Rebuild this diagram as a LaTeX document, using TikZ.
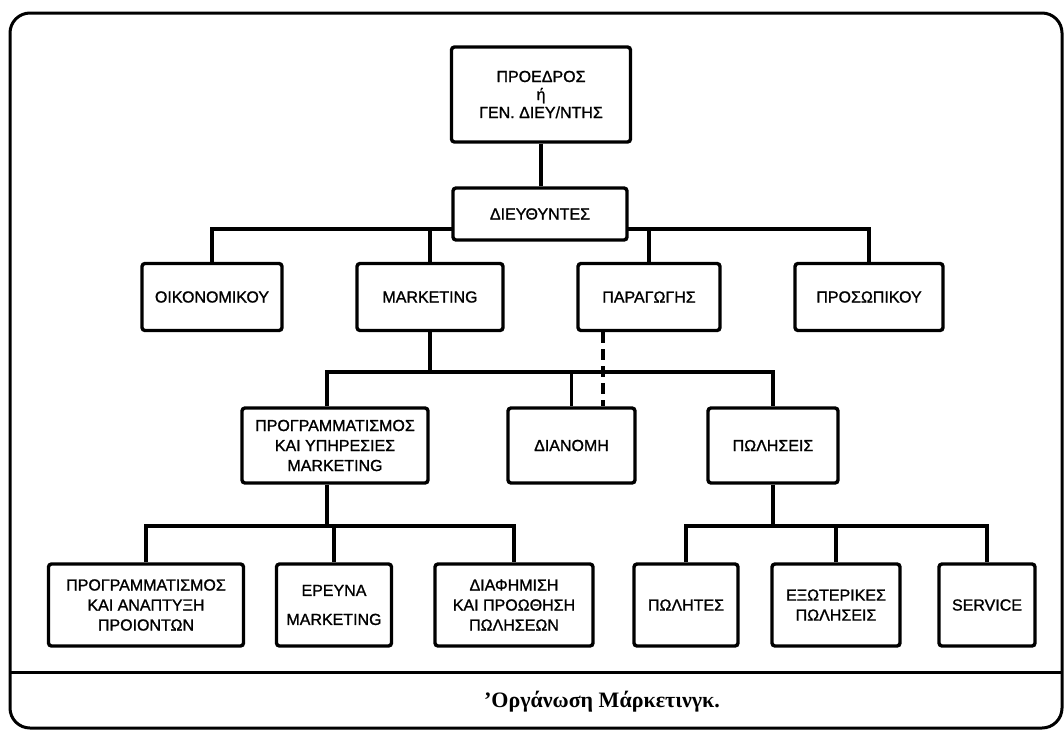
\documentclass[tikz,border=0pt]{standalone}
\usepackage{fontspec}
\setmainfont{Liberation Sans}
\newfontfamily\boxfont{Liberation Sans}[FakeBold=1.2]
\newfontfamily\capfont{Liberation Serif}
\pgfdeclarelayer{bg}
\pgfsetlayers{bg,main}
\begin{document}
\begin{tikzpicture}[x=1pt,y=-1pt,
  box/.style={draw, line width=3.4pt, rounded corners=3pt, fill=white, align=center,
    inner sep=0pt, font=\boxfont\fontsize{16}{20}\selectfont},
  conn/.style={line width=3.2pt},
  dashline/.style={line width=4pt, dash pattern=on 11pt off 6pt},
  frame/.style={line width=3pt, rounded corners=20pt}]
\useasboundingbox (0,0) rectangle (1064,731);
% frame
\draw[frame] (10,13) -- (1062,13) -- (1062,728) -- (10,728) -- cycle;
\draw[line width=3pt] (10,672) -- (1062,672);
% level 1
\node[box, minimum width=179pt, minimum height=95pt] (pres) at (541,94.5) {ΠΡΟΕΔΡΟΣ\\[-2pt]ή\\[-2pt]ΓΕΝ. ΔΙΕΥ/ΝΤΗΣ};
\node[box, minimum width=174pt, minimum height=52pt] (dir) at (540,214) {ΔΙΕΥΘΥΝΤΕΣ};
% level 2
\node[box, minimum width=140pt, minimum height=67pt] (oik) at (212,297) {ΟΙΚΟΝΟΜΙΚΟΥ};
\node[box, minimum width=146pt, minimum height=67pt] (mkt) at (430,297) {MARKETING};
\node[box, minimum width=142pt, minimum height=67pt] (par) at (649,297) {ΠΑΡΑΓΩΓΗΣ};
\node[box, minimum width=148pt, minimum height=67pt] (pros) at (869,297) {ΠΡΟΣΩΠΙΚΟΥ};
% level 3
\node[box, minimum width=186pt, minimum height=75pt] (prog) at (335,445.5) {ΠΡΟΓΡΑΜΜΑΤΙΣΜΟΣ\\ΚΑΙ ΥΠΗΡΕΣΙΕΣ\\MARKETING};
\node[box, minimum width=127pt, minimum height=75pt] (dian) at (571.5,445.5) {ΔΙΑΝΟΜΗ};
\node[box, minimum width=130pt, minimum height=75pt] (pol) at (773,445.5) {ΠΩΛΗΣΕΙΣ};
% level 4
\node[box, minimum width=195pt, minimum height=82pt] (pa) at (146,605) {ΠΡΟΓΡΑΜΜΑΤΙΣΜΟΣ\\ΚΑΙ ΑΝΑΠΤΥΞΗ\\ΠΡΟΙΟΝΤΩΝ};
\node[box, minimum width=115pt, minimum height=82pt] (er) at (334,605) {ΕΡΕΥΝΑ\\[9pt]MARKETING};
\node[box, minimum width=158pt, minimum height=82pt] (diaf) at (514,605) {ΔΙΑΦΗΜΙΣΗ\\ΚΑΙ ΠΡΟΩΘΗΣΗ\\ΠΩΛΗΣΕΩΝ};
\node[box, minimum width=104pt, minimum height=82pt] (plt) at (686,605) {ΠΩΛΗΤΕΣ};
\node[box, minimum width=128pt, minimum height=82pt] (ext) at (836,605) {ΕΞΩΤΕΡΙΚΕΣ\\ΠΩΛΗΣΕΙΣ};
\node[box, minimum width=96pt, minimum height=82pt] (srv) at (987,605) {SERVICE};
% caption
\node[font=\capfont\bfseries\fontsize{22}{26}\selectfont, anchor=base, inner sep=0pt] (cap) at (602,707) {’Οργάνωση Μάρκετινγκ.};
% connectors
\coordinate (bus1) at (0,229);
\coordinate (bus2) at (0,372);
\coordinate (bus3) at (0,526);
\coordinate (progx) at (327,0);
\coordinate (dashx) at (603,0);
\begin{pgfonlayer}{bg}
\draw[conn] (pres.south) -- (pres.south |- dir.north);
\draw[conn] (oik.north) -- (oik.north |- bus1) -- (pros.north |- bus1) -- (pros.north);
\draw[conn] (mkt.north) -- (mkt.north |- bus1);
\draw[conn] (par.north) -- (par.north |- bus1);
\draw[conn] (mkt.south) -- (mkt.south |- bus2);
\draw[conn] (prog.north -| progx) -- (progx |- bus2) -- (pol.north |- bus2) -- (pol.north);
\draw[conn] (dian.north) -- (dian.north |- bus2);
\draw[dashline] (par.south -| dashx) -- (dian.north -| dashx);
\draw[conn] (prog.south -| progx) -- (progx |- bus3);
\draw[conn] (pa.north) -- (pa.north |- bus3) -- (diaf.north |- bus3) -- (diaf.north);
\draw[conn] (er.north) -- (er.north |- bus3);
\draw[conn] (pol.south) -- (pol.south |- bus3);
\draw[conn] (plt.north) -- (plt.north |- bus3) -- (srv.north |- bus3) -- (srv.north);
\draw[conn] (ext.north) -- (ext.north |- bus3);
\end{pgfonlayer}
\end{tikzpicture}
\end{document}
